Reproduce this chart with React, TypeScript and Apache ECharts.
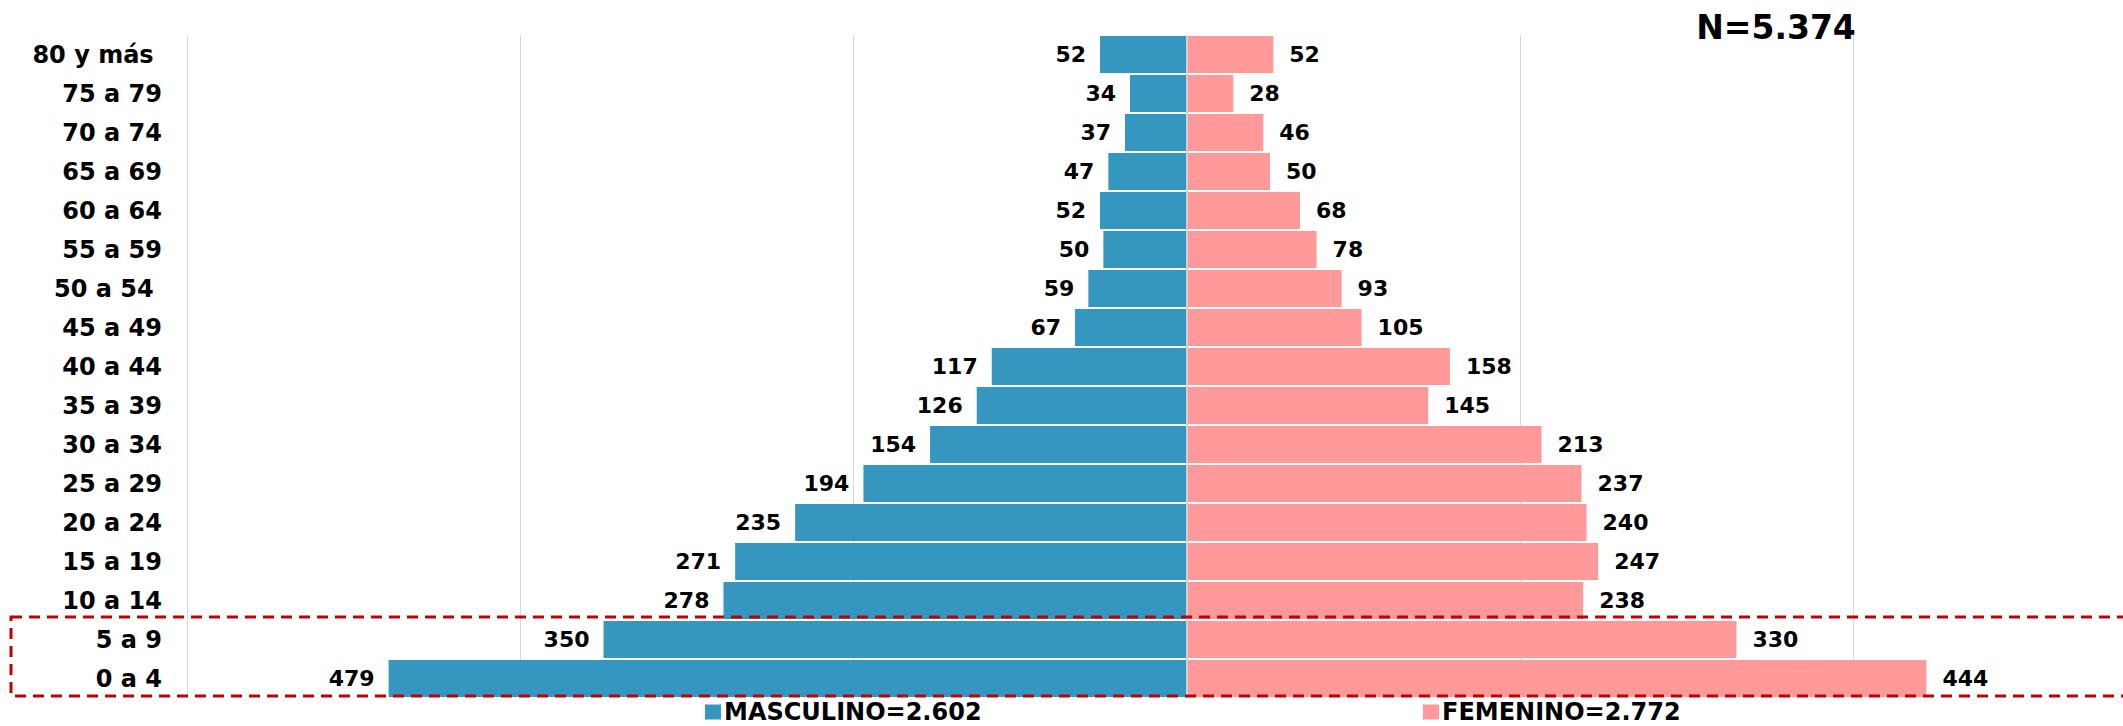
import React, { useEffect, useRef } from "react";
import * as echarts from "echarts";

const categories = [
  "80 y más ", "75 a 79", "70 a 74", "65 a 69", "60 a 64", "55 a 59", "50 a 54 ",
  "45 a 49", "40 a 44", "35 a 39", "30 a 34", "25 a 29", "20 a 24", "15 a 19",
  "10 a 14", "5 a 9", "0 a 4",
];
const maleValues = [52, 34, 37, 47, 52, 50, 59, 67, 117, 126, 154, 194, 235, 271, 278, 350, 479];
const femaleValues = [52, 28, 46, 50, 68, 78, 93, 105, 158, 145, 213, 237, 240, 247, 238, 330, 444];
const maleName = "MASCULINO=2.602";
const femaleName = "FEMENINO=2.772";
const totalLabel = "N=5.374";

const FONT = "DejaVu Sans";

export default function App() {
  const ref = useRef<HTMLDivElement>(null);
  useEffect(() => {
    if (!ref.current) return;
    const chart = echarts.init(ref.current, undefined, { renderer: "svg" });
    const legendText = {
      fontSize: 24,
      lineHeight: 24,
      fontWeight: "bold",
      color: "#000",
      fontFamily: FONT,
      padding: [0, 0, 0, -2],
    };
    const option: any = {
      animation: false,
      backgroundColor: "#ffffff",
      textStyle: { fontFamily: FONT },
      grid: { left: 187, top: 35, height: 663, right: 0, containLabel: false, outerBoundsMode: "none" },
      xAxis: {
        type: "value",
        min: -600,
        max: 562,
        interval: 200,
        axisLabel: { show: false },
        axisLine: { show: false },
        axisTick: { show: false },
        splitLine: { show: true, lineStyle: { color: "#d9d9d9", width: 1 } },
      },
      yAxis: {
        type: "category",
        inverse: true,
        data: categories,
        axisLine: { show: false },
        axisTick: { show: false },
        axisLabel: {
          margin: 25,
          fontSize: 24,
          fontWeight: "bold",
          color: "#000",
          fontFamily: FONT,
        },
      },
      legend: [
        {
          left: 705,
          top: 700,
          padding: 0,
          itemWidth: 16,
          itemHeight: 15,
          icon: "rect",
          data: [maleName],
          textStyle: legendText,
        },
        {
          left: 1423,
          top: 700,
          padding: 0,
          itemWidth: 16,
          itemHeight: 15,
          icon: "rect",
          data: [femaleName],
          textStyle: legendText,
        },
      ],
      series: [
        {
          name: maleName,
          type: "bar",
          data: maleValues.map((v) => -v),
          barGap: "-100%",
          barCategoryGap: "5%",
          itemStyle: { color: "#3597BF" },
          label: {
            show: true,
            position: "left",
            distance: 14,
            fontSize: 22,
            fontWeight: "bold",
            color: "#000",
            fontFamily: FONT,
            formatter: (p: any) => String(Math.abs(p.value)),
          },
        },
        {
          name: femaleName,
          type: "bar",
          data: femaleValues,
          barGap: "-100%",
          barCategoryGap: "5%",
          itemStyle: { color: "#FF999A" },
          label: {
            show: true,
            position: "right",
            distance: 16,
            fontSize: 22,
            fontWeight: "bold",
            color: "#000",
            fontFamily: FONT,
          },
          markLine: {
            silent: true,
            symbol: "none",
            label: { show: false },
            lineStyle: { color: "#d0d0d0", width: 2, type: "solid" },
            data: [{ xAxis: 0 }],
          },
        },
      ],
      graphic: [
        {
          type: "text",
          x: 1776,
          y: 27,
          z: 100,
          style: {
            text: totalLabel,
            fontSize: 33,
            fontWeight: "bold",
            fontFamily: FONT,
            fill: "#000",
            textAlign: "center",
            textVerticalAlign: "middle",
          },
        },
        {
          type: "rect",
          z: 100,
          shape: { x: 11, y: 617, width: 2200, height: 79 },
          style: { fill: "none", stroke: "#C00000", lineWidth: 3, lineDash: [11, 7] },
        },
      ],
    };
    chart.setOption(option);
    return () => chart.dispose();
  }, []);
  return (
    <div
      ref={ref}
      style={{ position: "fixed", left: 0, top: 0, width: 2123, height: 726, background: "#fff" }}
    />
  );
}
